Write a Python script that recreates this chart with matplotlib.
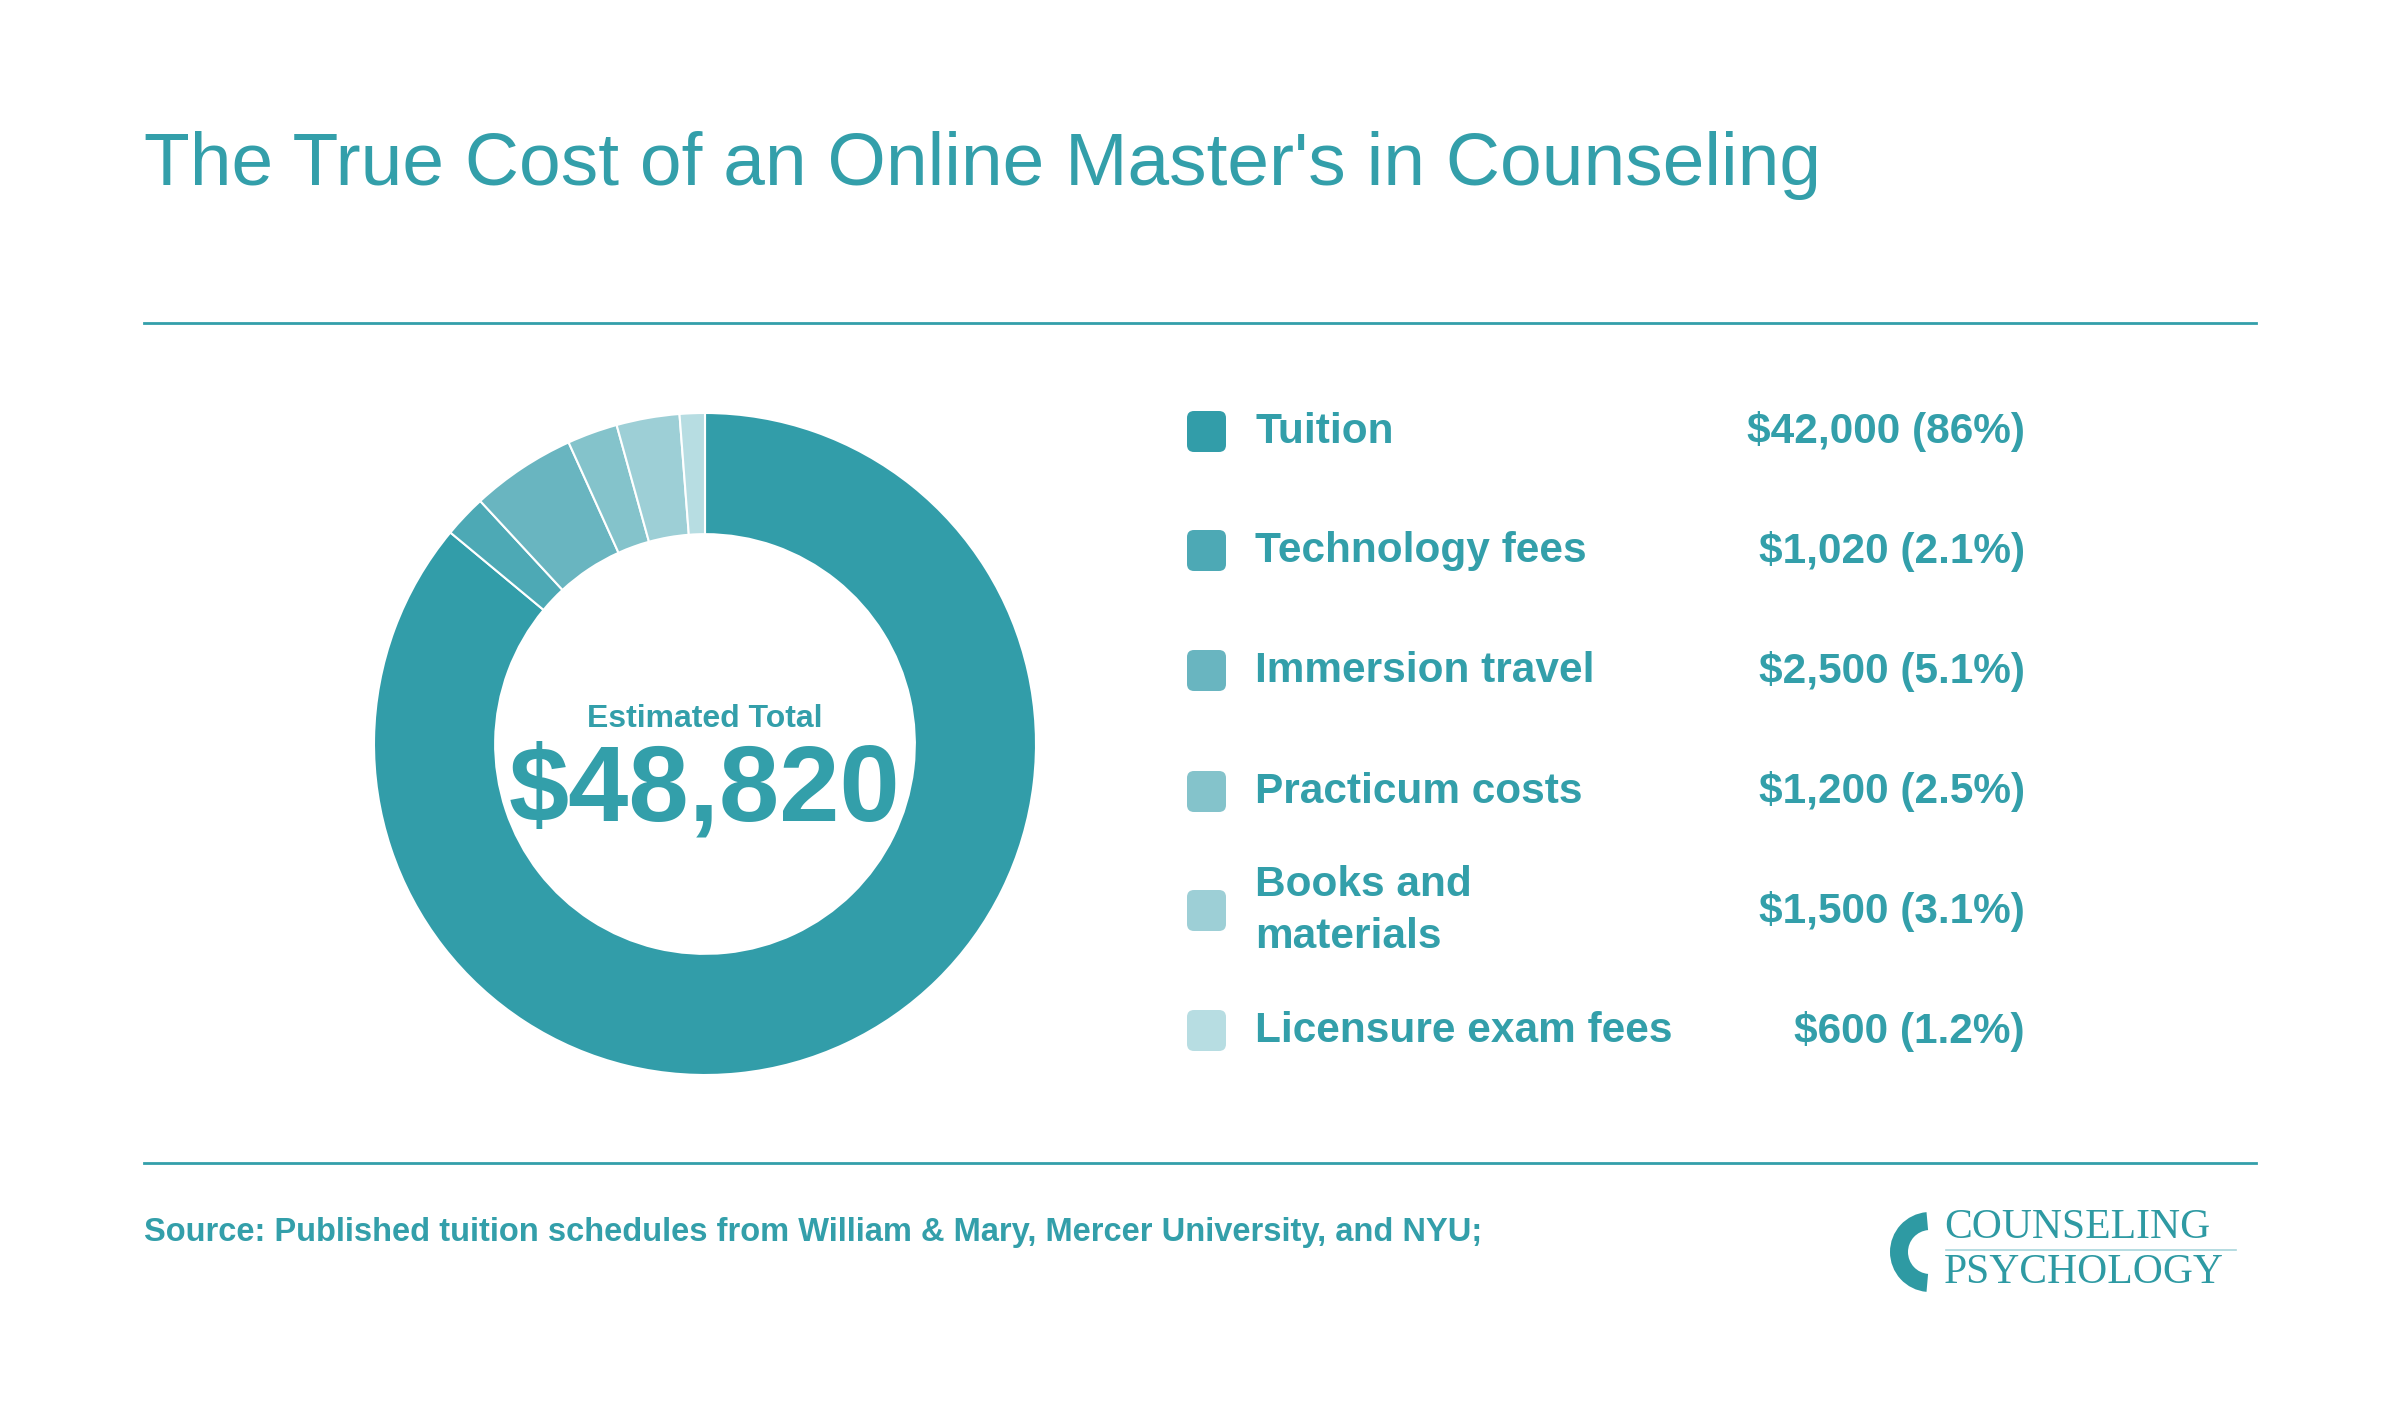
import matplotlib.pyplot as plt
from matplotlib.patches import FancyBboxPatch, Wedge

plt.rcParams["font.family"] = ["Liberation Sans Narrow", "Liberation Sans", "DejaVu Sans"]

# data
categories = ["Tuition", "Technology fees", "Immersion travel",
              "Practicum costs", "Books and\nmaterials", "Licensure exam fees"]
amounts = [42000, 1020, 2500, 1200, 1500, 600]
value_labels = ["$42,000 (86%)", "$1,020 (2.1%)", "$2,500 (5.1%)",
                "$1,200 (2.5%)", "$1,500 (3.1%)", "$600 (1.2%)"]
colors = ["#329DA9", "#4DA9B5", "#69B5C0", "#84C3CB", "#9DCFD6", "#B7DDE2"]
total_label = "$48,820"

teal = "#339FAA"
W, H = 2400, 1404

fig = plt.figure(figsize=(24, 14.04), dpi=100)
fig.patch.set_facecolor("white")

# overlay axes in pixel coordinates
ax = fig.add_axes([0, 0, 1, 1])
ax.set_xlim(0, W)
ax.set_ylim(H, 0)
ax.axis("off")

# title and rules
ax.text(144, 185, "The True Cost of an Online Master's in Counseling",
        fontsize=54, color=teal, ha="left", va="baseline")
ax.plot([144, 2256], [323, 323], color=teal, lw=2)
ax.plot([144, 2256], [1163, 1163], color=teal, lw=2)

# donut
cx, cy, r = 705, 744, 331
pax = fig.add_axes([(cx - r) / W, (H - cy - r) / H, 2 * r / W, 2 * r / H])
pax.pie(amounts, colors=colors, startangle=90, counterclock=False,
        radius=1.0, wedgeprops=dict(width=0.366, edgecolor="white", linewidth=1.5))
pax.set_xlim(-1, 1)
pax.set_ylim(-1, 1)
pax.set_aspect("equal")
pax.axis("off")

pax.text(0, 0.05, "Estimated Total", ha="center", va="baseline",
         fontsize=23, color=teal, fontweight="bold")
pax.text(0, -0.23, total_label, ha="center", va="baseline",
         fontsize=78, color=teal, fontweight="bold")

# legend rows
row_y = [432, 551, 671, 792, 911, 1031]
for yy, cat, val, col in zip(row_y, categories, value_labels, colors):
    ax.add_patch(FancyBboxPatch((1187, yy - 21), 39, 41,
                                boxstyle="round,pad=0,rounding_size=7",
                                facecolor=col, edgecolor="none"))
    ax.text(1255, yy, cat, fontsize=30.5, color=teal, fontweight="bold",
            ha="left", va="center", linespacing=1.38)
    ax.text(2025, yy, val, fontsize=30.5, color=teal, fontweight="bold",
            ha="right", va="center")

# source
ax.text(144, 1233, "Source: Published tuition schedules from William & Mary, Mercer University, and NYU;",
        fontsize=23.5, color=teal, fontweight="bold", ha="left", va="center")

# logo
logo = "#2E9AA3"
ax.add_patch(Wedge((1930, 1252), 40, 95, 265, width=18, facecolor=logo, edgecolor="none"))
ax.text(1944, 1228, "COUNSELING", family=["Liberation Serif", "DejaVu Serif"],
        fontsize=30, color=logo, ha="left", va="center")
ax.plot([1946, 2236], [1250, 1250], color="#A8D6DB", lw=1.2)
ax.text(1944, 1273, "PSYCHOLOGY", family=["Liberation Serif", "DejaVu Serif"],
        fontsize=30, color=logo, ha="left", va="center")

fig.savefig("out.png", dpi=100, facecolor="white")
